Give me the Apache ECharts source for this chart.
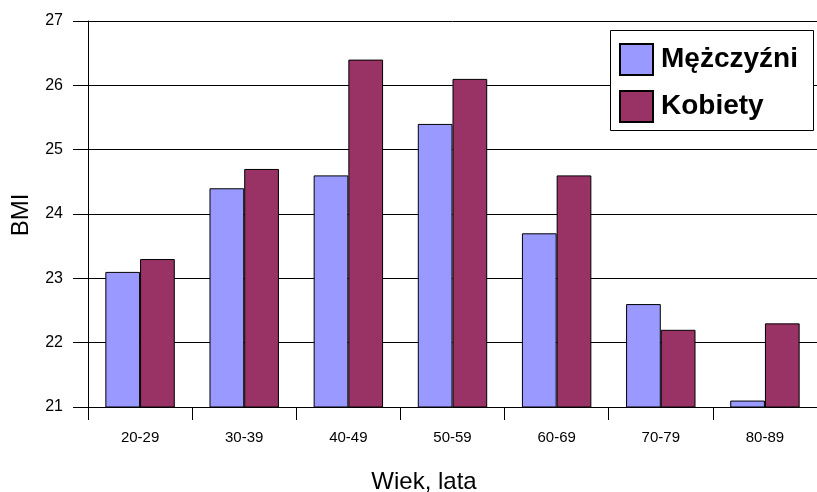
<!DOCTYPE html>
<html>
<head>
<meta charset="utf-8">
<script src="https://cdn.jsdelivr.net/npm/echarts@6/dist/echarts.min.js"></script>
<style>
  html, body { margin: 0; padding: 0; background: #fff; }
  #chart { width: 817px; height: 492px; }
</style>
</head>
<body>
<div id="chart"></div>
<script>
// Age groups and mean BMI per group
const ageGroups = ['20-29', '30-39', '40-49', '50-59', '60-69', '70-79', '80-89'];
const bmiMen = [23.1, 24.4, 24.6, 25.4, 23.7, 22.6, 21.1];
const bmiWomen = [23.3, 24.7, 26.4, 26.1, 24.6, 22.2, 22.3];
const yTicks = [21, 22, 23, 24, 25, 26, 27];

const FONT = '"Liberation Sans", Arial, sans-serif';

const chart = echarts.init(document.getElementById('chart'), null, { renderer: 'canvas' });

chart.setOption({
  animation: false,
  backgroundColor: '#ffffff',
  grid: { left: 88, top: 21, width: 746.67, height: 386, containLabel: false },
  xAxis: {
    type: 'category',
    data: ageGroups,
    boundaryGap: true,
    axisLine: { show: true, lineStyle: { color: '#000', width: 1 } },
    axisTick: { show: true, interval: 0, length: 13, lineStyle: { color: '#000', width: 1 } },
    axisLabel: { margin: 23, color: '#000', fontSize: 15, fontFamily: FONT, interval: 0 },
    splitLine: { show: false }
  },
  yAxis: {
    type: 'value',
    min: yTicks[0],
    max: yTicks[yTicks.length - 1],
    interval: 1,
    axisLine: { show: true, lineStyle: { color: '#000', width: 1 } },
    axisTick: { show: true, length: 15, lineStyle: { color: '#000', width: 1 } },
    axisLabel: { margin: 25, color: '#000', fontSize: 16, fontFamily: FONT },
    splitLine: { show: true, lineStyle: { color: '#000', width: 1 } }
  },
  legend: {
    orient: 'vertical',
    left: 619,
    top: 43,
    padding: 0,
    icon: 'rect',
    itemWidth: 33,
    itemHeight: 31,
    itemGap: 14,
    z: 10,
    textStyle: { fontSize: 28, fontWeight: 'bold', color: '#000', fontFamily: FONT, padding: [0, 0, 0, 3] },
    data: ['Mężczyźni', 'Kobiety']
  },
  graphic: [
    {
      type: 'rect',
      z: 9,
      shape: { x: 610.5, y: 30.5, width: 203, height: 100 },
      style: { fill: '#fff', stroke: '#000', lineWidth: 1 }
    },
    {
      type: 'text',
      x: 21,
      y: 215,
      rotation: Math.PI / 2,
      style: { text: 'BMI', fill: '#000', font: '24px ' + FONT, align: 'center', verticalAlign: 'middle' }
    },
    {
      type: 'text',
      x: 424,
      y: 482,
      style: { text: 'Wiek, lata', fill: '#000', font: '24px ' + FONT, align: 'center', verticalAlign: 'middle' }
    }
  ],
  series: [
    {
      name: 'Mężczyźni',
      type: 'bar',
      data: bmiMen,
      barGap: '0%',
      barCategoryGap: '33.33%',
      itemStyle: { color: '#9999FF', borderColor: '#000', borderWidth: 1 }
    },
    {
      name: 'Kobiety',
      type: 'bar',
      data: bmiWomen,
      barGap: '0%',
      barCategoryGap: '33.33%',
      itemStyle: { color: '#993366', borderColor: '#000', borderWidth: 1 }
    }
  ]
});
</script>
</body>
</html>
